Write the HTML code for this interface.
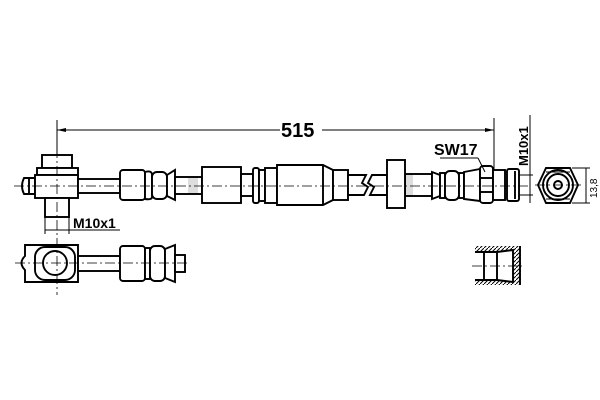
<!DOCTYPE html>
<html><head><style>body{margin:0;background:#fff}svg{display:block}</style></head><body>
<svg width="600" height="400" viewBox="0 0 600 400" xmlns="http://www.w3.org/2000/svg">
<rect width="600" height="400" fill="#fff"/>
<defs><pattern id="h" width="4" height="4" patternUnits="userSpaceOnUse"><path d="M0 4 L4 0" stroke="#000" stroke-width="1"/></pattern></defs>
<g fill="#fff" stroke="#000" stroke-width="1.9">
<line x1="57" y1="120" x2="57" y2="168" stroke-width="1"/>
<line x1="494" y1="118" x2="494" y2="170" stroke-width="1"/>
<line x1="57" y1="130" x2="280" y2="130" stroke-width="1"/>
<line x1="322" y1="130" x2="494" y2="130" stroke-width="1"/>
<path d="M57 130 L66 128 L66 132 Z M494 130 L485 128 L485 132Z" fill="#000" stroke="none"/>
<path d="M35 178 L24 178 Q20 186 24 194 L35 194 Z"/>
<line x1="29" y1="178" x2="29" y2="194"/>
<rect x="42" y="155" width="30" height="13"/>
<rect x="37" y="168" width="41" height="7"/>
<rect x="35" y="175" width="43" height="23"/>
<rect x="45" y="198" width="24" height="19"/>
<rect x="78" y="179" width="42" height="14"/>
<rect x="120" y="170" width="25" height="30" rx="3"/>
<path d="M145 172 Q152 170 152 175 L152 197 Q152 200 145 199 Z"/>
<rect x="152" y="172" width="15" height="27" rx="5"/>
<path d="M167 175 L175 170 L175 200 L167 196 Z"/>
<rect x="175" y="177" width="27" height="17"/>
<rect x="188" y="178" width="10" height="15" fill="#ddd" stroke="none"/>
<rect x="202" y="167" width="39" height="36"/>
<rect x="241" y="174" width="12" height="22"/>
<rect x="253" y="168" width="6" height="35" rx="2"/>
<rect x="259" y="170" width="6" height="31"/>
<rect x="265" y="168" width="12" height="35"/>
<path d="M277 165 L323 165 L333 170 L333 200 L323 205 L277 205 Z"/>
<line x1="323" y1="165" x2="323" y2="205"/>
<rect x="333" y="170" width="15" height="30"/>
<path d="M348 175 L366 175 L362 183 L368 187 L364 195 L348 195 Z"/>
<path d="M387 175 L372 175 L368 183 L374 187 L370 195 L387 195 Z"/>
<rect x="405" y="174" width="27" height="22"/>
<rect x="406" y="175" width="7" height="20" fill="#ddd" stroke="none"/>
<rect x="387" y="160" width="18" height="48"/>
<path d="M432 172 L440 175 L440 196 L432 199 Z"/>
<rect x="440" y="173" width="5" height="25"/>
<rect x="445" y="171" width="14" height="29" rx="5"/>
<rect x="459" y="173" width="5" height="25"/>
<path d="M464 172 L480 169 L480 201 L464 199 Z"/>
<rect x="480" y="166" width="13" height="37" rx="3"/>
<line x1="480" y1="178" x2="493" y2="178"/><line x1="480" y1="192" x2="493" y2="192"/>
<rect x="493" y="170" width="12" height="30"/>
<rect x="507" y="169" width="12" height="32" rx="2"/>
<line x1="515" y1="171" x2="515" y2="199"/>
<polygon points="538,185 546,168 570,168 578,185 570,203 546,203"/>
<circle cx="558" cy="185" r="15"/>
<circle cx="558" cy="185" r="11"/>
<circle cx="558" cy="185" r="4"/>
<line x1="546" y1="172" x2="570" y2="172" stroke-width="1"/>
<line x1="546" y1="199" x2="570" y2="199" stroke-width="1"/>
<path d="M25 245 L78 245 L78 282 L25 282 L25 270 Q18 263 25 256 Z"/>
<rect x="35" y="247" width="40" height="33" rx="10"/>
<circle cx="55" cy="263" r="12"/>
<rect x="78" y="256" width="42" height="15"/>
<rect x="120" y="246" width="25" height="35" rx="3"/>
<rect x="145" y="248" width="5" height="31"/>
<rect x="150" y="246" width="15" height="35" rx="5"/>
<path d="M165 249 L175 245 L175 282 L165 278 Z"/>
<rect x="175" y="255" width="10" height="17"/>
<path d="M475 246 L521 246 L521 285 L475 285 Z" fill="url(#h)" stroke="none"/>
<path d="M475 252 L497 252 L497 280 L475 280 Z" fill="#fff" stroke="none"/>
<path d="M497 252 L513 250 L513 282 L497 280 Z"/>
<line x1="475" y1="252" x2="497" y2="252"/><line x1="475" y1="280" x2="497" y2="280"/>
<line x1="484" y1="252" x2="484" y2="280"/>
<line x1="520" y1="246" x2="520" y2="285"/>
</g>
<g stroke="#000" stroke-width="0.8" stroke-dasharray="10 3 2 3" fill="none">
<line x1="14" y1="186" x2="530" y2="186"/>
<line x1="535" y1="185" x2="582" y2="185"/>
<line x1="57" y1="148" x2="57" y2="295"/>
<line x1="15" y1="263" x2="190" y2="263"/>
<line x1="472" y1="266" x2="522" y2="266"/>
</g>
<g stroke="#000" stroke-width="1" fill="none">
<line x1="45" y1="217" x2="45" y2="234"/><line x1="69" y1="217" x2="69" y2="234"/>
<line x1="45" y1="230" x2="120" y2="230"/>
<line x1="530" y1="168" x2="530" y2="203"/>
<line x1="519" y1="175" x2="533" y2="175"/><line x1="519" y1="195" x2="533" y2="195"/>
<line x1="530" y1="115" x2="530" y2="168"/>
<line x1="586" y1="168" x2="586" y2="203"/>
<line x1="572" y1="168" x2="590" y2="168"/><line x1="572" y1="203" x2="590" y2="203"/>
<line x1="478" y1="158" x2="485" y2="172"/>
<line x1="440" y1="158" x2="478" y2="158"/>
</g>
<g font-family="Liberation Sans, sans-serif" font-weight="bold" fill="#000">
<text x="281" y="137" font-size="20">515</text>
<text x="73" y="228" font-size="14">M10x1</text>
<text x="434" y="155" font-size="16">SW17</text>
<text transform="translate(528,166) rotate(-90)" font-size="13">M10x1</text>
<text transform="translate(597,198) rotate(-90)" font-size="10" font-weight="normal">13,8</text>
</g>
</svg>
</body></html>
